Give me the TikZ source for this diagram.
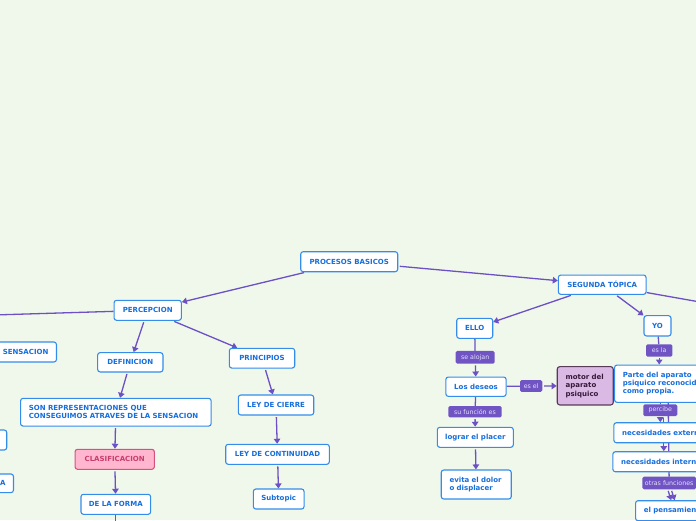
\documentclass[tikz,border=0pt]{standalone}
\usepackage{fontspec}
\setmainfont{DejaVu Sans}
\usetikzlibrary{arrows.meta,backgrounds,calc}
\definecolor{bgc}{RGB}{240,248,236}
\definecolor{nodeblue}{RGB}{52,140,235}
\definecolor{textblue}{RGB}{22,110,220}
\definecolor{connp}{RGB}{108,80,196}
\definecolor{lblfill}{RGB}{112,84,196}
\definecolor{lbltext}{RGB}{228,222,250}
\definecolor{pinkfill}{RGB}{255,182,206}
\definecolor{pinkdraw}{RGB}{214,82,126}
\definecolor{pinktext}{RGB}{200,60,110}
\definecolor{motfill}{RGB}{218,186,228}
\definecolor{motdraw}{RGB}{88,58,88}
\definecolor{mottext}{RGB}{58,24,58}
\tikzset{
  topic/.style={draw=nodeblue, fill=white, rounded corners=2.5pt, line width=1.1pt,
    text=textblue, font=\bfseries\fontsize{7}{8.3}\selectfont, inner xsep=2pt, inner ysep=1pt},
  pinkbox/.style={topic, draw=pinkdraw, fill=pinkfill, text=pinktext},
  motorbox/.style={topic, draw=motdraw, fill=motfill, text=mottext},
  lbl/.style={fill=lblfill, rounded corners=1.5pt, text=lbltext,
    font=\fontsize{6.3}{7}\selectfont, inner sep=1pt},
  plainc/.style={draw=connp, line width=1.3pt},
  conn/.style={plainc, shorten <=1.5pt, -{Triangle[length=5pt,width=6.5pt]}},
}
\begin{document}
\begin{tikzpicture}[x=1pt,y=-1pt]
\useasboundingbox (0,0) rectangle (696,520);
\begin{scope}[on background layer]
\fill[bgc] (0,0) rectangle (696,520);
\end{scope}
\clip (0,0) rectangle (696,520);

% nodes
\node[topic, minimum width=97, minimum height=20] (proc) at (349.2,261.7) {PROCESOS BASICOS};
\node[topic, minimum width=67.3, minimum height=20] (perc) at (147.7,310.3) {PERCEPCION};
\node[topic, anchor=east, inner xsep=8, minimum height=20] (sens) at (57,352) {SENSACION};
\node[topic, minimum width=65.3, minimum height=19.3] (defi) at (130.3,362.3) {DEFINICION};
\node[topic, minimum width=65.4, minimum height=19.7] (prin) at (262,358.2) {PRINCIPIOS};
\node[topic, anchor=west, inner xsep=8.3, text width=174, align=left, minimum height=27.7, font=\bfseries\fontsize{7}{8}\selectfont] (son) at (20,412.2) {SON REPRESENTACIONES QUE\\CONSEGUIMOS ATRAVES DE LA SENSACION};
\node[pinkbox, minimum width=79.3, minimum height=20] (clas) at (114.7,459.3) {CLASIFICACION};
\node[topic, minimum width=69.7, minimum height=20] (forma) at (115.8,504.3) {DE LA FORMA};
\node[topic, anchor=east, minimum width=74, minimum height=20] (lp1) at (7.3,440) {};
\node[topic, anchor=east, inner xsep=8, text width=44, align=right, minimum height=18.7] (lp2) at (14,483.3) {A};
\node[topic, minimum width=75.4, minimum height=20] (cier) at (276,405) {LEY DE CIERRE};
\node[topic, minimum width=103.6, minimum height=20] (cont) at (277.5,454.3) {LEY DE CONTINUIDAD};
\node[topic, minimum width=50.7, minimum height=20] (subt) at (278.7,499) {Subtopic};
\node[topic, minimum width=87.7, minimum height=19.3] (seg) at (602.2,284.7) {SEGUNDA TÓPICA};
\node[topic, minimum width=36, minimum height=20] (ello) at (474.7,328.3) {ELLO};
\node[topic, minimum width=27, minimum height=20.3] (yo) at (657.5,325.8) {YO};
\node[topic, minimum width=60.3, minimum height=19.3] (des) at (476,386.7) {Los deseos};
\node[topic, minimum width=76, minimum height=20] (logr) at (475.3,437.3) {lograr el placer};
\node[topic, anchor=west, inner xsep=8.3, text width=53.4, align=left, minimum height=29] (evit) at (440.7,484.5) {evita el dolor\\o displacer};
\node[motorbox, anchor=west, inner xsep=8.3, text width=39.4, align=left, minimum height=38.3] (mot) at (556.7,385.8) {motor del\\aparato\\psiquico};
\node[topic, anchor=west, inner xsep=8.3, text width=100, align=left, minimum height=37.3] (parte) at (614,383.7) {Parte del aparato\\psiquico reconocido\\como propia.};
\node[topic, anchor=west, inner xsep=8.3, text width=110, align=left, minimum height=20] (ext) at (613.3,432.7) {necesidades externas};
\node[topic, anchor=west, inner xsep=8.3, text width=110, align=left, minimum height=20] (int) at (612.3,461.7) {necesidades internas};
\node[topic, anchor=west, inner xsep=8.3, text width=90, align=left, minimum height=20] (pens) at (635,510.7) {el pensamiento};

% labels
\node[lbl, minimum width=39, minimum height=12.7] (la1) at (475.2,357.3) {se alojan};
\node[lbl, minimum width=53.4, minimum height=11.3] (la2) at (475,411.7) {su función es};
\node[lbl, minimum width=22.3, minimum height=11.7] (la3) at (531.2,386) {es el};
\node[lbl, minimum width=26.3, minimum height=12.4] (la4) at (659.2,350.5) {es la};
\node[lbl, minimum width=34, minimum height=11.7] (la5) at (660.3,410.2) {percibe};
\node[lbl, minimum width=53.7, minimum height=12.6] (la6) at (669.2,483) {otras funciones};

% free ends
\coordinate (offL) at (-200,320.9);
\coordinate (offR) at (800,319.7);
\coordinate (offB) at (115.8,560);

\begin{scope}[on background layer]
\clip (0,0) rectangle (696,520);
\draw[conn] (proc) -- (perc);
\draw[conn] (proc) -- (seg);
\draw[plainc] (perc) -- (offL);
\draw[conn] (perc) -- (defi);
\draw[conn] (perc) -- (prin);
\draw[conn] (defi) -- (son);
\draw[conn] (son) -- (clas);
\draw[conn] (clas) -- (forma);
\draw[plainc] (forma) -- (offB);
\draw[conn] (prin) -- (cier);
\draw[conn] (cier) -- (cont);
\draw[conn] (cont) -- (subt);
\draw[conn] (seg) -- (ello);
\draw[conn] (seg) -- (yo);
\draw[plainc] (seg) -- (offR);
\draw[plainc] (ello) -- (la1);
\draw[conn] (la1) -- (des);
\draw[plainc] (des) -- (la3);
\draw[conn] (la3) -- (mot);
\draw[plainc] (des) -- (la2);
\draw[conn] (la2) -- (logr);
\draw[conn] (logr) -- (evit);
\draw[plainc] (yo) -- (la4);
\draw[conn] (la4) -- (parte.north -| la4);
\draw[plainc] (parte.south -| la5) -- (la5);
\draw[conn] (la5) -- (ext.north -| la5);
\draw[conn] ($(la5.south)+(3.5,0)$) -- ($(int.north -| la5)+(3.5,0)$);
\draw[plainc] ($(parte.south -| la6)+(-1,0)$) -- (la6);
\draw[conn] ($(la6.south)+(-1.5,0)$) -- ($(pens.north -| la6)+(2,0)$);
\draw[conn] ($(la6.south)+(2,0)$) -- ($(pens.north -| la6)+(5.5,0)$);
\end{scope}
\end{tikzpicture}
\end{document}
